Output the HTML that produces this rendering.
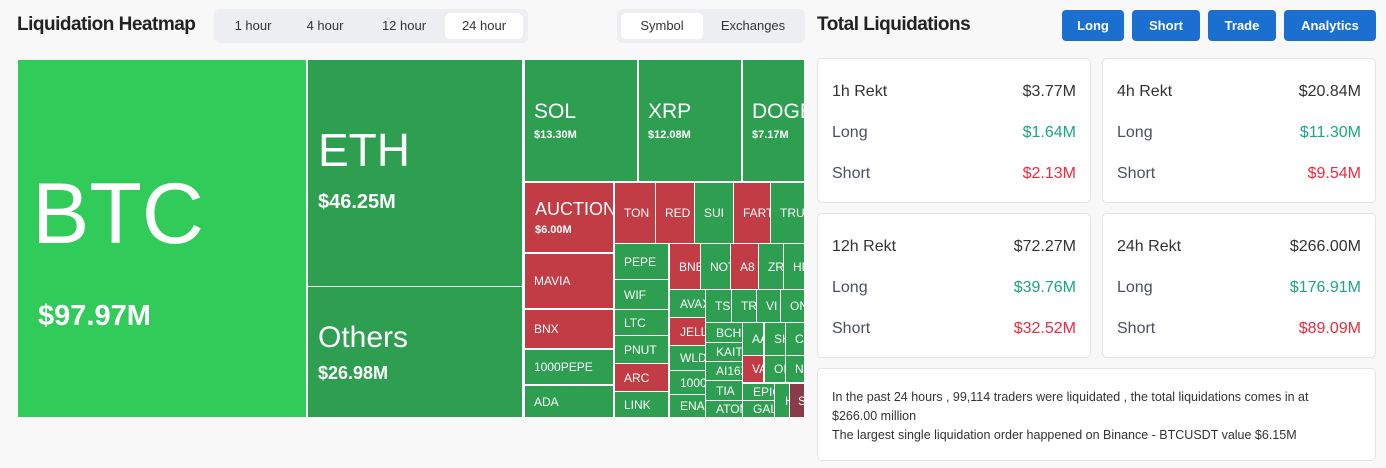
<!DOCTYPE html>
<html><head><meta charset="utf-8"><style>
*{box-sizing:border-box;margin:0;padding:0}
body{width:1386px;height:468px;background:#f8f8f8;font-family:"Liberation Sans","DejaVu Sans",sans-serif;position:relative;overflow:hidden;color:#222}
.a{position:absolute}
.c{position:absolute;color:#fff;font-size:12px;overflow:hidden;white-space:nowrap;padding-left:9px;display:flex;flex-direction:column;justify-content:center}
.g{background:#2e9f50}.r{background:#c13c44}.d{background:#8a3b4b}
.c b{font-weight:bold}
.tab{position:absolute;top:9px;height:34px;background:#eceef1;border-radius:6px}
.tab span{position:absolute;top:4px;height:26px;line-height:26px;font-size:13px;color:#333;text-align:center}
.tab .on{background:#fff;border-radius:5px}
.btn{position:absolute;top:10px;height:31px;background:#1b6fd0;color:#fff;font-weight:bold;font-size:13px;line-height:31px;text-align:center;border-radius:4px}
.card{position:absolute;background:#fff;border:1px solid #e4e4e4;border-radius:5px;width:274px;height:145px}
.card div{position:absolute;left:14px;right:14px;font-size:16px;color:#4a5060}
.card div span{position:absolute;right:0}
.card .t{top:24px;color:#333}
.card .l{top:65px}.card .s{top:106px}
.gr{color:#1aa685}.rd{color:#f0293d}
</style></head><body>
<div class="a" style="left:17px;top:14px;font-size:19px;font-weight:bold;letter-spacing:-0.5px">Liquidation Heatmap</div>
<div class="tab" style="left:214px;width:314px">
<span style="left:4px;width:70px">1 hour</span><span style="left:76px;width:70px">4 hour</span><span style="left:150px;width:80px">12 hour</span><span class="on" style="left:231px;width:78px">24 hour</span></div>
<div class="tab" style="left:617px;width:188px">
<span class="on" style="left:4px;width:82px">Symbol</span><span style="left:88px;width:96px">Exchanges</span></div>

<div class="a" style="left:18px;top:60px;width:786px;height:357px;background:#fff"></div>
<div class="c" style="left:18px;top:60px;width:288px;height:357px;background:#31cb5a;padding-left:0">
<div style="position:absolute;left:14px;top:105px;font-size:86px">BTC</div>
<div style="position:absolute;left:20px;top:240px;font-size:29px;font-weight:bold">$97.97M</div></div>
<div class="c g" style="left:308px;top:60px;width:214px;height:226px;padding-left:10px"><div style="font-size:46px;margin-top:-10px">ETH</div><div style="font-size:20px;font-weight:bold;margin-top:14px">$46.25M</div></div>
<div class="c g" style="left:308px;top:287px;width:214px;height:130px;padding-left:10px"><div style="font-size:30px">Others</div><div style="font-size:18px;font-weight:bold;margin-top:8px">$26.98M</div></div>
<div class="c g" style="left:525px;top:60px;width:112px;height:121px"><div style="font-size:21px">SOL</div><div style="font-size:11px;font-weight:bold;margin-top:5px">$13.30M</div></div>
<div class="c g" style="left:639px;top:60px;width:102px;height:121px"><div style="font-size:21px">XRP</div><div style="font-size:11px;font-weight:bold;margin-top:5px">$12.08M</div></div>
<div class="c g" style="left:743px;top:60px;width:61px;height:121px"><div style="font-size:21px">DOGE</div><div style="font-size:11px;font-weight:bold;margin-top:5px">$7.17M</div></div>
<div class="c r" style="left:525px;top:183px;width:88px;height:69px;padding-left:10px"><div style="font-size:18px">AUCTION</div><div style="font-size:11px;font-weight:bold;margin-top:4px">$6.00M</div></div>
<div class="c r" style="left:615px;top:183px;width:40px;height:60px">TON</div>
<div class="c r" style="left:656px;top:183px;width:38px;height:60px">RED</div>
<div class="c g" style="left:695px;top:183px;width:38px;height:60px">SUI</div>
<div class="c r" style="left:734px;top:183px;width:36px;height:60px">FART</div>
<div class="c g" style="left:771px;top:183px;width:33px;height:60px">TRU</div>
<div class="c r" style="left:525px;top:254px;width:88px;height:54px">MAVIA</div>
<div class="c r" style="left:525px;top:310px;width:88px;height:38px">BNX</div>
<div class="c g" style="left:525px;top:350px;width:88px;height:34px">1000PEPE</div>
<div class="c g" style="left:525px;top:386px;width:88px;height:31px">ADA</div>
<div class="c g" style="left:615px;top:244px;width:53px;height:35px">PEPE</div>
<div class="c g" style="left:615px;top:280px;width:53px;height:29px">WIF</div>
<div class="c g" style="left:615px;top:310px;width:53px;height:25px">LTC</div>
<div class="c g" style="left:615px;top:336px;width:53px;height:27px">PNUT</div>
<div class="c r" style="left:615px;top:364px;width:53px;height:27px">ARC</div>
<div class="c g" style="left:615px;top:392px;width:53px;height:25px">LINK</div>
<div class="c r" style="left:670px;top:244px;width:30px;height:45px">BNB</div>
<div class="c g" style="left:701px;top:244px;width:29px;height:45px">NOT</div>
<div class="c r" style="left:731px;top:244px;width:27px;height:45px">A8</div>
<div class="c g" style="left:759px;top:244px;width:24px;height:45px">ZRO</div>
<div class="c g" style="left:784px;top:244px;width:20px;height:45px">HE</div>
<div class="c g" style="left:670px;top:290px;width:35px;height:27px;padding-left:10px">AVAX</div>
<div class="c r" style="left:670px;top:318px;width:35px;height:27px;padding-left:10px">JELLY</div>
<div class="c g" style="left:670px;top:346px;width:35px;height:24px;padding-left:10px">WLD</div>
<div class="c g" style="left:670px;top:371px;width:35px;height:23px;padding-left:10px">1000</div>
<div class="c g" style="left:670px;top:395px;width:35px;height:22px;padding-left:10px">ENA</div>
<div class="c g" style="left:706px;top:290px;width:25px;height:32px">TST</div>
<div class="c g" style="left:732px;top:290px;width:24px;height:32px">TR</div>
<div class="c g" style="left:757px;top:290px;width:23px;height:32px">VI</div>
<div class="c g" style="left:781px;top:290px;width:23px;height:32px">ON</div>
<div class="c g" style="left:706px;top:323px;width:36px;height:19px;padding-left:10px">BCH</div>
<div class="c g" style="left:706px;top:343px;width:36px;height:18px;padding-left:10px">KAIT</div>
<div class="c g" style="left:706px;top:362px;width:36px;height:18px;padding-left:10px">AI16Z</div>
<div class="c g" style="left:706px;top:381px;width:36px;height:19px;padding-left:10px">TIA</div>
<div class="c g" style="left:706px;top:401px;width:36px;height:16px;padding-left:10px">ATOM</div>
<div class="c g" style="left:743px;top:323px;width:20px;height:32px">AA</div>
<div class="c g" style="left:765px;top:323px;width:20px;height:32px">SH</div>
<div class="c g" style="left:786px;top:323px;width:18px;height:32px">CA</div>
<div class="c r" style="left:743px;top:356px;width:20px;height:26px">VA</div>
<div class="c g" style="left:765px;top:356px;width:20px;height:26px">OI</div>
<div class="c g" style="left:786px;top:356px;width:18px;height:26px">N</div>
<div class="c g" style="left:743px;top:384px;width:31px;height:16px;padding-left:10px">EPIC</div>
<div class="c g" style="left:743px;top:401px;width:31px;height:16px;padding-left:10px">GAL</div>
<div class="c g" style="left:775px;top:384px;width:14px;height:33px;padding-left:10px">H</div>
<div class="c d" style="left:790px;top:384px;width:14px;height:33px;padding-left:8px">S</div>

<div class="a" style="left:817px;top:14px;font-size:19px;font-weight:bold;letter-spacing:-0.5px">Total Liquidations</div>
<div class="btn" style="left:1062px;width:62px">Long</div>
<div class="btn" style="left:1132px;width:68px">Short</div>
<div class="btn" style="left:1208px;width:68px">Trade</div>
<div class="btn" style="left:1284px;width:92px">Analytics</div>

<div class="card" style="left:817px;top:58px"><div class="t">1h Rekt<span>$3.77M</span></div><div class="l">Long<span class="gr">$1.64M</span></div><div class="s">Short<span class="rd">$2.13M</span></div></div>
<div class="card" style="left:1102px;top:58px"><div class="t">4h Rekt<span>$20.84M</span></div><div class="l">Long<span class="gr">$11.30M</span></div><div class="s">Short<span class="rd">$9.54M</span></div></div>
<div class="card" style="left:817px;top:213px"><div class="t">12h Rekt<span>$72.27M</span></div><div class="l">Long<span class="gr">$39.76M</span></div><div class="s">Short<span class="rd">$32.52M</span></div></div>
<div class="card" style="left:1102px;top:213px"><div class="t">24h Rekt<span>$266.00M</span></div><div class="l">Long<span class="gr">$176.91M</span></div><div class="s">Short<span class="rd">$89.09M</span></div></div>
<div class="a" style="left:817px;top:368px;width:559px;height:93px;background:#fff;border:1px solid #e4e4e4;border-radius:5px;padding:19px 14px 0;font-size:12.5px;line-height:19px;color:#333">In the past 24 hours , 99,114 traders were liquidated , the total liquidations comes in at<br>$266.00 million<br>The largest single liquidation order happened on Binance - BTCUSDT value $6.15M</div>
</body></html>
